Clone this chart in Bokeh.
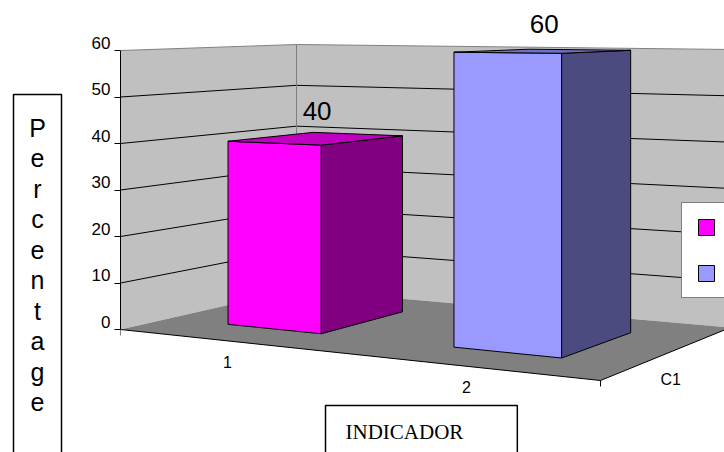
from bokeh.plotting import figure
from bokeh.layouts import row
from bokeh.models import (Range1d, LinearAxis, FixedTicker, Label, Legend,
                          LegendItem)
from bokeh.core.properties import value
from bokeh.embed import file_html
from bokeh.resources import INLINE

# ---------------- data ----------------
series = ["1", "2"]
values = [40, 60]
depth_category = "C1"
y_ticks = [0, 10, 20, 30, 40, 50, 60]
y_title = "Percentage"
x_title = "INDICADOR"

front_colors = ["#FF00FF", "#9999FF"]
side_colors = ["#800080", "#4B4B80"]
top_colors = ["#C000C0", "#7070C0"]

# ---------------- geometry (page pixels) ----------------
PAGE_W, PAGE_H = 724, 452
LEFT_W = 80               # width of the side panel holding the axis title
FRAME_LEFT = 120          # page x of the value axis
YMAX = 60
# floor corners for (X,Z) = (0,0), (1,0), (1,1), (0,1)
FLOOR = [(120, 329), (600, 380), (730, 327), (296, 289)]
# page y of the top plane (value = YMAX) at the same corners
TOP_Y = [50, 55, 49, 44]
Y0 = FLOOR[0][1]
PPU = (FLOOR[0][1] - TOP_Y[0]) / YMAX
BAR_W = 0.215
Z0, Z1 = 0.25, 0.75
LABEL_SHIFT = 8           # tick labels sit this many px above their ticks


def homography(q):
    (x0, y0), (x1, y1), (x2, y2), (x3, y3) = q
    sx = x0 - x1 + x2 - x3
    sy = y0 - y1 + y2 - y3
    dx1, dx2 = x1 - x2, x3 - x2
    dy1, dy2 = y1 - y2, y3 - y2
    det = dx1 * dy2 - dx2 * dy1
    g = (sx * dy2 - dx2 * sy) / det
    h = (dx1 * sy - sx * dy1) / det
    a, b, c = x1 - x0 + g * x1, x3 - x0 + h * x3, x0
    d, e, f = y1 - y0 + g * y1, y3 - y0 + h * y3, y0

    def m(X, Z):
        w = g * X + h * Z + 1
        return (a * X + b * Z + c) / w, (d * X + e * Z + f) / w
    return m


HF = homography(FLOOR)


def top_y(X, Z):
    y00, y10, y11, y01 = TOP_Y
    return ((1 - X) * (1 - Z) * y00 + X * (1 - Z) * y10
            + X * Z * y11 + (1 - X) * Z * y01)


def proj(X, v, Z):
    fx, fy = HF(X, Z)
    t = v / YMAX
    return fx, fy + t * (top_y(X, Z) - fy)


def dx(px):
    return px - FRAME_LEFT


def dy(py):
    return (Y0 - py) / PPU


def poly(pts3):
    pts = [proj(*p) for p in pts3]
    return [dx(px) for px, _ in pts], [dy(py) for _, py in pts]


# ---------------- side panel with boxed axis title ----------------
side = figure(width=LEFT_W, height=PAGE_H, output_backend="svg", toolbar_location=None,
              x_axis_type=None, y_axis_type=None,
              x_range=Range1d(0, LEFT_W), y_range=Range1d(0, PAGE_H),
              min_border_left=0, min_border_right=0, min_border_top=0, min_border_bottom=0)
side.outline_line_color = None
side.background_fill_color = "white"
side.border_fill_color = "white"
side.quad(left=[13], right=[61], top=[PAGE_H - 94], bottom=[-20],
          fill_color="white", line_color="black", line_width=1.5)
side.text(x=[37], y=[PAGE_H - 113], text=["\n".join(list(y_title))],
          text_font=value("Liberation Sans"), text_font_size="25px",
          text_align="center", text_baseline="top", text_line_height=1.09,
          text_color="black")

# ---------------- main chart ----------------
MAIN_W = PAGE_W - LEFT_W
p = figure(width=MAIN_W, height=PAGE_H, output_backend="svg", toolbar_location=None,
           x_axis_type=None, y_axis_type=None,
           x_range=Range1d(0, PAGE_W - FRAME_LEFT),
           y_range=Range1d(dy(PAGE_H), dy(0)),
           min_border_left=FRAME_LEFT - LEFT_W, min_border_right=0,
           min_border_top=0, min_border_bottom=0)
p.outline_line_color = None
p.background_fill_color = "white"
p.border_fill_color = "white"

# axis with the ticks (no labels)
ax = LinearAxis(ticker=FixedTicker(ticks=y_ticks), bounds=(0, YMAX))
ax.axis_line_color = "black"
ax.major_tick_line_color = "black"
ax.major_tick_out = 6
ax.major_tick_in = 0
ax.minor_tick_out = 0
ax.minor_tick_in = 0
ax.major_label_standoff = 0
ax.major_label_overrides = {t: "" for t in y_ticks}
p.add_layout(ax, "left")

# axis with the labels, on a range shifted so labels sit above their ticks
shift = LABEL_SHIFT / PPU
p.extra_y_ranges = {"labels": Range1d(dy(PAGE_H) - shift, dy(0) - shift)}
lab = LinearAxis(y_range_name="labels", ticker=FixedTicker(ticks=y_ticks))
lab.axis_line_color = None
lab.major_tick_line_color = None
lab.major_tick_out = 0
lab.major_tick_in = 0
lab.minor_tick_out = 0
lab.minor_tick_in = 0
lab.major_label_standoff = 4
lab.major_label_text_font = "Liberation Sans"
lab.major_label_text_font_size = "17px"
lab.major_label_text_color = "black"
p.add_layout(lab, "left")

# walls and floor
xs, ys = poly([(0, 0, 0), (0, 0, 1), (0, YMAX, 1), (0, YMAX, 0)])
p.patch(xs, ys, fill_color="#C0C0C0", line_color=None)
xs, ys = poly([(0, 0, 1), (1, 0, 1), (1, YMAX, 1), (0, YMAX, 1)])
p.patch(xs, ys, fill_color="#C0C0C0", line_color=None)
xs, ys = poly([(0, 0, 0), (1, 0, 0), (1, 0, 1), (0, 0, 1)])
p.patch(xs, ys, fill_color="#808080", line_color=None)

# gridlines
for t in y_ticks[1:]:
    col = "#808080" if t == YMAX else "black"
    xs, ys = poly([(0, t, 0), (0, t, 1), (1, t, 1)])
    p.line(xs, ys, line_color=col, line_width=1)
xs, ys = poly([(0, 0, 1), (0, YMAX, 1)])
p.line(xs, ys, line_color="#808080", line_width=1)

# floor axes
xs, ys = poly([(0, 0, 0), (1, 0, 0), (1, 0, 1)])
p.line(xs, ys, line_color="black", line_width=1)
for X in (0, 1):
    px, py = proj(X, 0, 0)
    p.segment(x0=[dx(px)], y0=[dy(py)], x1=[dx(px)], y1=[dy(py + 6)],
              line_color="black", line_width=1)

# bars
n = len(values)
front_renderers = []
for i, v in enumerate(values):
    xc = (i + 0.5) / n
    x0, x1 = xc - BAR_W / 2, xc + BAR_W / 2
    xs, ys = poly([(x0, 0, Z0), (x1, 0, Z0), (x1, v, Z0), (x0, v, Z0)])
    r = p.patch(xs, ys, fill_color=front_colors[i], line_color="black", line_width=1)
    front_renderers.append(r)
    xs, ys = poly([(x1, 0, Z0), (x1, 0, Z1), (x1, v, Z1), (x1, v, Z0)])
    p.patch(xs, ys, fill_color=side_colors[i], line_color="black", line_width=1)
    xs, ys = poly([(x0, v, Z0), (x1, v, Z0), (x1, v, Z1), (x0, v, Z1)])
    p.patch(xs, ys, fill_color=top_colors[i], line_color="black", line_width=1)

# value labels
lx, ly = [], []
for i, v in enumerate(values):
    px, py = proj((i + 0.5) / n, v, 0.5)
    lx.append(dx(px)); ly.append(dy(py))
p.text(x=lx, y=ly, text=[str(v) for v in values], text_font=value("Liberation Sans"),
       text_font_size="26px", text_align="center", text_baseline="alphabetic",
       y_offset=-27, text_color="black")

# category labels on the front axis
cx, cy = [], []
for i in range(n):
    px, py = proj((i + 0.5) / n, 0, 0)
    cx.append(dx(px)); cy.append(dy(py))
p.text(x=cx, y=cy, text=series, text_font=value("Liberation Sans"),
       text_font_size="16px", text_align="center", text_baseline="top",
       y_offset=15, text_color="black")

# depth axis label
px, py = proj(1, 0, 0.5)
p.text(x=[dx(px)], y=[dy(py)], text=[depth_category], text_font=value("Liberation Sans"),
       text_font_size="16px", text_align="center", text_baseline="top",
       y_offset=19, text_color="black")

# boxed category-axis title (anchor = top-left of the padded box)
xtitle = Label(x=325 - FRAME_LEFT, y=PAGE_H - 405, x_units="screen", y_units="screen",
               text=x_title, text_font="Liberation Serif", text_font_size="21px",
               text_align="left", text_baseline="top", text_color="black",
               border_line_color="black", border_line_width=1.5,
               background_fill_color="white",
               padding=dict(left=20, right=54, top=14, bottom=40))
p.add_layout(xtitle)

# legend
legend = Legend(items=[LegendItem(label=s, renderers=[r]) for s, r in zip(series, front_renderers)],
                location=(681 - FRAME_LEFT, PAGE_H - 298),
                glyph_width=20, glyph_height=20, spacing=26, padding=14, margin=0,
                label_standoff=9, label_text_font="Liberation Sans",
                label_text_font_size="16px", border_line_color="black",
                border_line_width=1, background_fill_color="white",
                background_fill_alpha=1)
p.add_layout(legend, "center")

layout = row(side, p, spacing=0)
open("out.html", "w").write(file_html(layout, INLINE))
